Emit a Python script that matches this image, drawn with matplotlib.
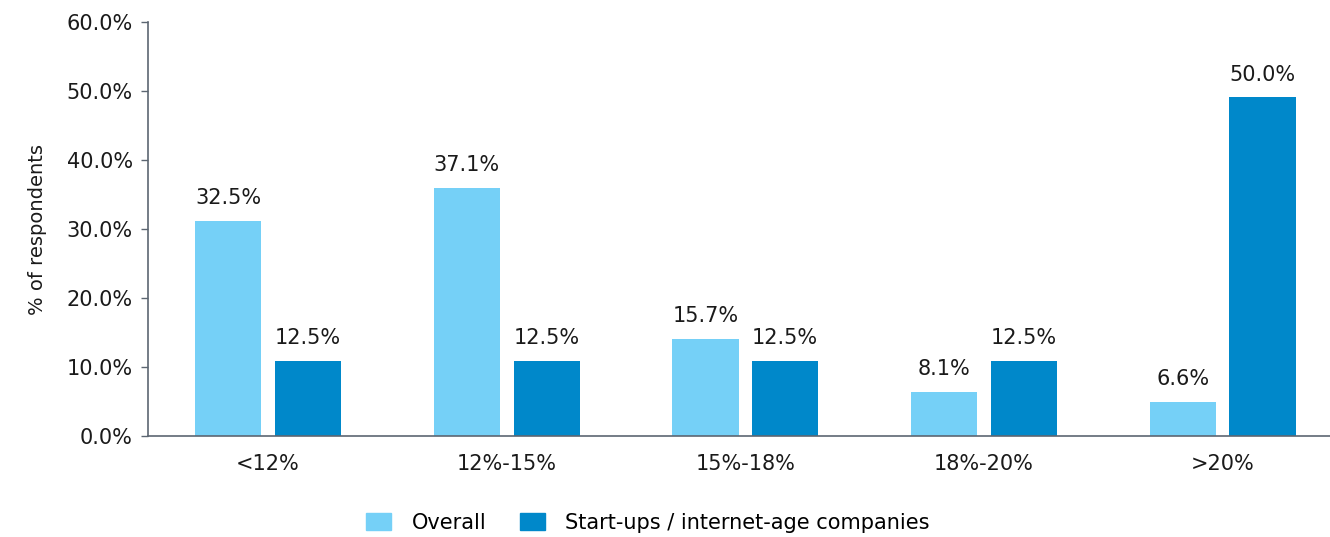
import matplotlib
matplotlib.use("Agg")
import matplotlib.pyplot as plt
import matplotlib.patches as mpatches
import numpy as np

# Categories and series
categories = ["<12%", "12%-15%", "15%-18%", "18%-20%", ">20%"]
series_names = ["Overall", "Start-ups / internet-age companies"]

# Bar heights as drawn in the source chart (%)
overall_height = [31.2, 36.0, 14.1, 6.4, 5.0]
startup_height = [10.9, 10.9, 10.9, 10.9, 49.1]

# Values printed on top of the bars (%)
overall_label = [32.5, 37.1, 15.7, 8.1, 6.6]
startup_label = [12.5, 12.5, 12.5, 12.5, 50.0]

y_ticks = [0, 10, 20, 30, 40, 50, 60]

LIGHT = "#75d0f7"
DARK = "#0088ca"
AXIS = "#5c6672"
TEXT = "#1a1a1a"
FS = 15

plt.rcParams["font.family"] = ["DejaVu Sans"]

fig = plt.figure(figsize=(13.3, 5.37), dpi=100)
ax = fig.add_axes([0.1113, 0.188, 0.8887, 0.771])

x = np.arange(len(categories))
w = 0.277
off = 0.167

ax.bar(x - off, overall_height, width=w, color=LIGHT)
ax.bar(x + off, startup_height, width=w, color=DARK)

for xi, h, v in zip(x - off, overall_height, overall_label):
    ax.annotate(f"{v:.1f}%", (xi, h), xytext=(0, 9), textcoords="offset points",
                ha="center", va="bottom", fontsize=FS, color=TEXT)
for xi, h, v in zip(x + off, startup_height, startup_label):
    ax.annotate(f"{v:.1f}%", (xi, h), xytext=(0, 9), textcoords="offset points",
                ha="center", va="bottom", fontsize=FS, color=TEXT)

ax.set_xlim(-0.503, 4.45)
ax.set_ylim(0, 60)
ax.set_yticks(y_ticks)
ax.set_yticklabels([f"{t:.1f}%" for t in y_ticks], fontsize=FS, color=TEXT)
ax.set_xticks(x)
ax.set_xticklabels(categories, fontsize=FS, color=TEXT)
ax.tick_params(axis="x", length=0, pad=13)
ax.tick_params(axis="y", length=5, width=1, color=AXIS, pad=6)

ax.set_ylabel("% of respondents", fontsize=14, color=TEXT, labelpad=14)

for s in ["top", "right"]:
    ax.spines[s].set_visible(False)
for s in ["left", "bottom"]:
    ax.spines[s].set_color(AXIS)
    ax.spines[s].set_linewidth(1.2)

# legend sits at the very bottom edge, as in the source
handles = [mpatches.Patch(color=LIGHT, label=series_names[0]),
           mpatches.Patch(color=DARK, label=series_names[1])]
fig.legend(handles=handles, loc="center", bbox_to_anchor=(0.487, 0.027),
           ncol=2, frameon=False, fontsize=FS, handlelength=1.2, handleheight=0.9,
           columnspacing=1.6, handletextpad=1.0, borderpad=0.2)

fig.savefig("out.png", dpi=100, facecolor="white")
